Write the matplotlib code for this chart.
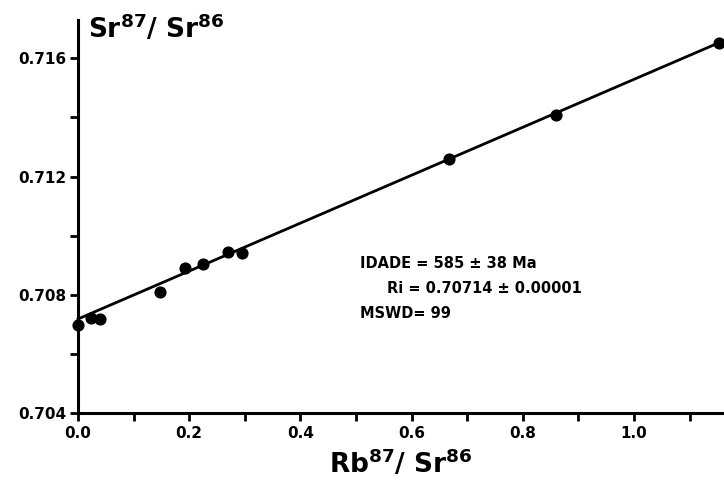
import matplotlib
matplotlib.use("Agg")
import matplotlib.pyplot as plt
import numpy as np

plt.rcParams["mathtext.default"] = "bf"

rb_sr = [0.0, 0.023, 0.04, 0.147, 0.192, 0.225, 0.27, 0.295, 0.667, 0.86, 1.153]
sr_sr = [0.70697, 0.70721, 0.70718, 0.70809, 0.7089, 0.70903, 0.70944, 0.7094, 0.71261, 0.71407, 0.71653]
intercept = 0.70718
slope = 0.00811
x_major = [0.0, 0.2, 0.4, 0.6, 0.8, 1.0]
x_labels = ["0.0", "0.2", "0.4", "0.6", "0.8", "1.0"]
y_major = [0.704, 0.708, 0.712, 0.716]
y_labels = ["0.704", "0.708", "0.712", "0.716"]
info_lines = ["IDADE = 585 ± 38 Ma", "Ri = 0.70714 ± 0.00001", "MSWD= 99"]

fig = plt.figure(figsize=(7.24, 4.87), dpi=100)
ax = fig.add_axes([0.1077, 0.152, 0.8923, 0.807])
xl = (0.0, 1.162)
ax.set_xlim(*xl)
ax.set_ylim(0.704, 0.7173)

xs = np.array(xl)
ax.plot(xs, intercept + slope * xs, color="black", lw=2, clip_on=False, zorder=2)
ax.scatter(rb_sr, sr_sr, s=60, color="black", zorder=3, clip_on=False)

for s in ["top", "right"]:
    ax.spines[s].set_visible(False)
for s in ["left", "bottom"]:
    ax.spines[s].set_linewidth(2.2)

ax.set_xticks(x_major)
ax.set_xticklabels(x_labels, fontsize=11, fontweight="bold")
ax.set_xticks(np.arange(0.1, 1.16, 0.2), minor=True)
ax.set_yticks(y_major)
ax.set_yticklabels(y_labels, fontsize=11, fontweight="bold")
ax.set_yticks([0.706, 0.710, 0.714], minor=True)
ax.tick_params(which="both", direction="out", width=2, length=6)
ax.tick_params(axis="y", which="both", pad=2)

ax.text(0.018, 0.7165, "Sr$^{87}$/ Sr$^{86}$", fontsize=19, fontweight="bold", va="bottom", ha="left")
ax.set_xlabel("Rb$^{87}$/ Sr$^{86}$", fontsize=19, fontweight="bold", labelpad=5)

ax.text(0.507, 0.70907, info_lines[0], fontsize=10.5, fontweight="bold", va="center")
ax.text(0.556, 0.70822, info_lines[1], fontsize=10.5, fontweight="bold", va="center")
ax.text(0.507, 0.70738, info_lines[2], fontsize=10.5, fontweight="bold", va="center")

fig.savefig("out.png", dpi=100)
